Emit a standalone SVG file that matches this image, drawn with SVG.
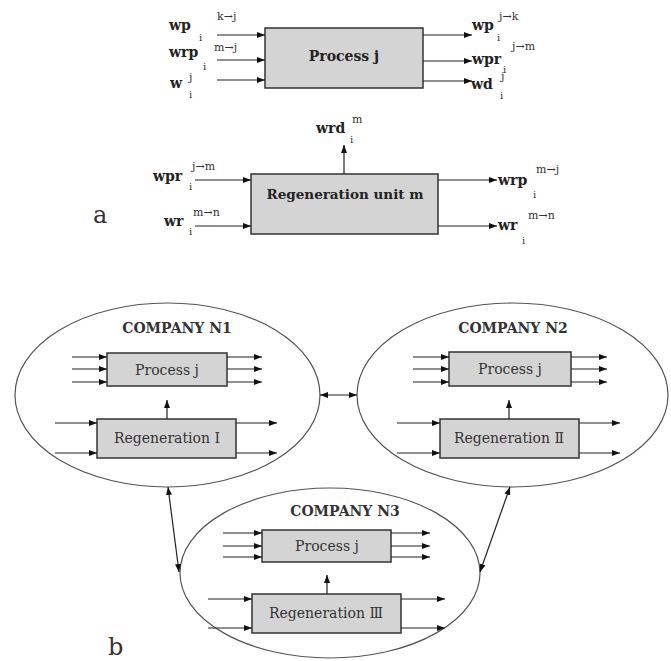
<svg xmlns="http://www.w3.org/2000/svg" width="671" height="661" viewBox="0 0 671 661">
<defs>
<marker id="ah" markerWidth="8" markerHeight="6" refX="8" refY="3" orient="auto-start-reverse" markerUnits="userSpaceOnUse">
<path d="M0,0 L8,3 L0,6 z" fill="#111"/>
</marker>
<style>
.box{fill:#d4d4d4;stroke:#333;stroke-width:1.5}
.ell{fill:#fff;stroke:#555;stroke-width:1.2}
.ln{stroke:#222;stroke-width:1.2;fill:none;marker-end:url(#ah)}
.dbl{stroke:#222;stroke-width:1.2;fill:none;marker-end:url(#ah);marker-start:url(#ah)}
.v{font-family:"DejaVu Serif","Liberation Serif",serif;font-weight:bold;font-size:14px;fill:#222}
.sup{font-family:"DejaVu Serif","Liberation Serif",serif;font-size:11px;fill:#333}
.sub{font-family:"DejaVu Serif","Liberation Serif",serif;font-size:10px;fill:#333}
.bl{font-family:"DejaVu Serif","Liberation Serif",serif;font-weight:bold;font-size:14px;fill:#222;text-anchor:middle}
.pl{font-family:"DejaVu Serif","Liberation Serif",serif;font-size:14px;fill:#333;text-anchor:middle}
.co{font-family:"DejaVu Serif","Liberation Serif",serif;font-weight:bold;font-size:14px;fill:#333;text-anchor:middle}
.big{font-family:"DejaVu Serif","Liberation Serif",serif;font-size:24px;fill:#333}
</style>
</defs>
<rect width="671" height="661" fill="#fff"/>

<!-- Part a: Process j -->
<g id="process-a">
<rect class="box" x="265" y="28" width="158" height="60"/>
<text class="bl" x="344" y="61">Process j</text>
</g>
<g id="process-a-labels">
<text class="v" x="169" y="30">wp</text><text class="sup" x="217" y="20">k→j</text><text class="sub" x="199" y="41">i</text>
<text class="v" x="169" y="57">wrp</text><text class="sup" x="214" y="51">m→j</text><text class="sub" x="203" y="70">i</text>
<text class="v" x="170" y="88">w</text><text class="sup" x="189" y="81">j</text><text class="sub" x="189" y="98">i</text>
<text class="v" x="472" y="30">wp</text><text class="sup" x="499" y="20">j→k</text><text class="sub" x="497" y="41">i</text>
<text class="v" x="472" y="64">wpr</text><text class="sup" x="512" y="50">j→m</text><text class="sub" x="503" y="73">i</text>
<text class="v" x="471" y="89">wd</text><text class="sup" x="501" y="80">j</text><text class="sub" x="500" y="99">i</text>
</g>

<!-- Part a: Regeneration unit m -->
<g id="regen-a">
<rect class="box" x="251" y="174" width="187" height="60"/>
<text class="bl" x="345" y="199" style="font-size:13.5px">Regeneration unit m</text>
</g>
<g id="regen-a-labels">
<text class="v" x="316" y="133">wrd</text><text class="sup" x="352" y="123">m</text><text class="sub" x="350" y="143">i</text>
<text class="v" x="153" y="181">wpr</text><text class="sup" x="192" y="170">j→m</text><text class="sub" x="189" y="190">i</text>
<text class="v" x="164" y="226">wr</text><text class="sup" x="193" y="216">m→n</text><text class="sub" x="189" y="235">i</text>
<text class="v" x="498" y="185">wrp</text><text class="sup" x="536" y="173">m→j</text><text class="sub" x="533" y="198">i</text>
<text class="v" x="498" y="230">wr</text><text class="sup" x="528" y="219">m→n</text><text class="sub" x="522" y="244">i</text>
<text class="big" x="93" y="223">a</text>
</g>

<!-- Part b: companies -->
<g id="company-n1">
<ellipse class="ell" cx="167.5" cy="395" rx="152.5" ry="92"/>
<text class="co" x="177" y="333">COMPANY N1</text>
<rect class="box" x="107" y="353" width="120" height="33"/>
<text class="pl" x="167" y="375">Process j</text>
<rect class="box" x="97" y="419" width="139" height="39"/>
<text class="pl" x="167" y="443">Regeneration I</text>
</g>
<g id="company-n2">
<ellipse class="ell" cx="512.5" cy="395" rx="155.5" ry="92"/>
<text class="co" x="513" y="333">COMPANY N2</text>
<rect class="box" x="449" y="352" width="122" height="34"/>
<text class="pl" x="510" y="374">Process j</text>
<rect class="box" x="440" y="419" width="139" height="39"/>
<text class="pl" x="509" y="443">Regeneration Ⅱ</text>
</g>
<g id="company-n3">
<ellipse class="ell" cx="330" cy="573" rx="150" ry="85"/>
<text class="co" x="345" y="516">COMPANY N3</text>
<rect class="box" x="262" y="530" width="129" height="32"/>
<text class="pl" x="327" y="551">Process j</text>
<rect class="box" x="252" y="594" width="149" height="39"/>
<text class="pl" x="326" y="618">Regeneration Ⅲ</text>
<text class="big" x="108" y="655">b</text>
</g>

<g id="connectors">
<!-- part a process -->
<line class="ln" x1="217" y1="35" x2="265" y2="35"/>
<line class="ln" x1="217" y1="60" x2="265" y2="60"/>
<line class="ln" x1="217" y1="80" x2="265" y2="80"/>
<line class="ln" x1="423" y1="35" x2="472" y2="35"/>
<line class="ln" x1="423" y1="61" x2="472" y2="61"/>
<line class="ln" x1="423" y1="81" x2="472" y2="81"/>
<!-- part a regen -->
<line class="ln" x1="344" y1="174" x2="344" y2="145"/>
<line class="ln" x1="195" y1="180" x2="251" y2="180"/>
<line class="ln" x1="195" y1="226" x2="251" y2="226"/>
<line class="ln" x1="438" y1="180" x2="497" y2="180"/>
<line class="ln" x1="438" y1="226" x2="497" y2="226"/>
<!-- N1 -->
<line class="ln" x1="72" y1="357" x2="107" y2="357"/>
<line class="ln" x1="72" y1="369" x2="107" y2="369"/>
<line class="ln" x1="72" y1="382" x2="107" y2="382"/>
<line class="ln" x1="227" y1="357" x2="262" y2="357"/>
<line class="ln" x1="227" y1="369" x2="262" y2="369"/>
<line class="ln" x1="227" y1="382" x2="262" y2="382"/>
<line class="ln" x1="167" y1="419" x2="167" y2="400"/>
<line class="ln" x1="55" y1="423" x2="97" y2="423"/>
<line class="ln" x1="55" y1="453" x2="97" y2="453"/>
<line class="ln" x1="236" y1="423" x2="277" y2="423"/>
<line class="ln" x1="236" y1="453" x2="277" y2="453"/>
<!-- N2 -->
<line class="ln" x1="413" y1="357" x2="449" y2="357"/>
<line class="ln" x1="413" y1="369" x2="449" y2="369"/>
<line class="ln" x1="413" y1="382" x2="449" y2="382"/>
<line class="ln" x1="571" y1="357" x2="607" y2="357"/>
<line class="ln" x1="571" y1="369" x2="607" y2="369"/>
<line class="ln" x1="571" y1="382" x2="607" y2="382"/>
<line class="ln" x1="509" y1="419" x2="509" y2="400"/>
<line class="ln" x1="397" y1="423" x2="440" y2="423"/>
<line class="ln" x1="397" y1="453" x2="440" y2="453"/>
<line class="ln" x1="579" y1="423" x2="620" y2="423"/>
<line class="ln" x1="579" y1="453" x2="620" y2="453"/>
<!-- N3 -->
<line class="ln" x1="223" y1="533" x2="262" y2="533"/>
<line class="ln" x1="223" y1="546" x2="262" y2="546"/>
<line class="ln" x1="223" y1="557" x2="262" y2="557"/>
<line class="ln" x1="391" y1="533" x2="430" y2="533"/>
<line class="ln" x1="391" y1="546" x2="430" y2="546"/>
<line class="ln" x1="391" y1="557" x2="430" y2="557"/>
<line class="ln" x1="327" y1="594" x2="327" y2="575"/>
<line class="ln" x1="208" y1="599" x2="252" y2="599"/>
<line class="ln" x1="208" y1="628" x2="252" y2="628"/>
<line class="ln" x1="401" y1="599" x2="445" y2="599"/>
<line class="ln" x1="401" y1="628" x2="445" y2="628"/>
<!-- between companies -->
<line class="dbl" x1="320" y1="395" x2="357" y2="395"/>
<line class="dbl" x1="168" y1="487" x2="179" y2="572"/>
<line class="dbl" x1="510" y1="487" x2="480" y2="572"/>
</g>
</svg>
